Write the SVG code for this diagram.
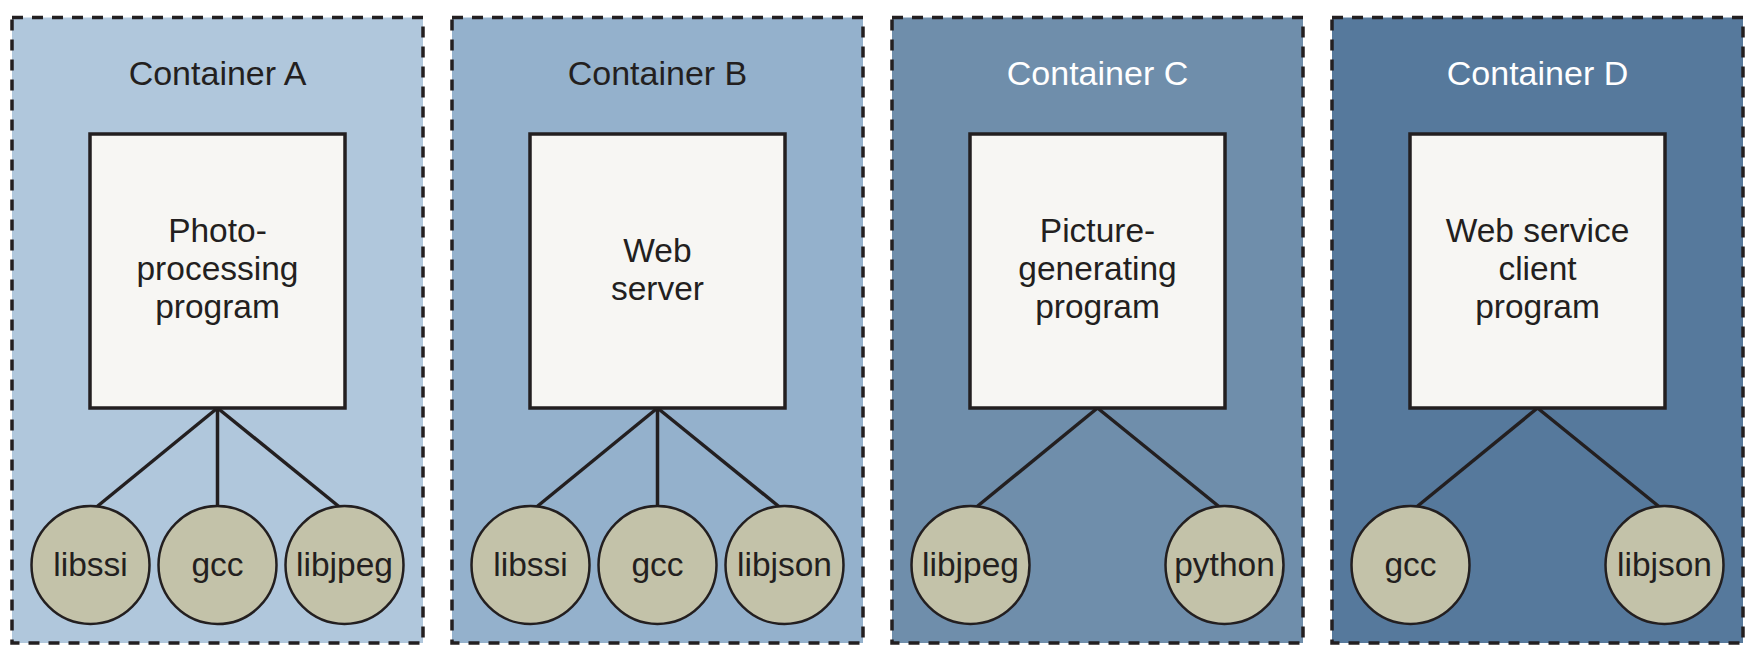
<svg xmlns="http://www.w3.org/2000/svg" width="1759" height="658" viewBox="0 0 1759 658">
  <style>
    .container { stroke: #231f20; stroke-width: 3.5; stroke-dasharray: 11 9; }
    .title { font-family: "Liberation Sans", Arial, sans-serif; font-size: 34px; text-anchor: middle; }
    .dark { fill: #231f20; }
    .light { fill: #ffffff; }
    .prog { fill: #f7f6f3; stroke: #231f20; stroke-width: 3.5; }
    .label { font-family: "Liberation Sans", Arial, sans-serif; font-size: 33.5px; text-anchor: middle; fill: #231f20; }
    .lib { fill: #c3c2a9; stroke: #231f20; stroke-width: 2.5; }
    .link { stroke: #231f20; stroke-width: 3.5; fill: none; }
  </style>

  <rect width="1759" height="658" fill="#ffffff"/>

  <!-- container backgrounds -->
  <g id="containerA">
    <rect class="container" x="12" y="17.5" width="411" height="625.5" fill="#b0c7dc"/>
    <text class="title dark" x="217.5" y="85">Container A</text>
  </g>
  <g id="containerB">
    <rect class="container" x="452" y="17.5" width="411" height="625.5" fill="#94b1cc"/>
    <text class="title dark" x="657.5" y="85">Container B</text>
  </g>
  <g id="containerC">
    <rect class="container" x="892" y="17.5" width="411" height="625.5" fill="#6f8eab"/>
    <text class="title light" x="1097.5" y="85">Container C</text>
  </g>
  <g id="containerD">
    <rect class="container" x="1332" y="17.5" width="411" height="625.5" fill="#56799c"/>
    <text class="title light" x="1537.5" y="85">Container D</text>
  </g>

  <!-- dependency links -->
  <g id="connectors">
    <line class="link" x1="217.5" y1="408" x2="96.5" y2="507"/>
    <line class="link" x1="217.5" y1="408" x2="217.5" y2="507"/>
    <line class="link" x1="217.5" y1="408" x2="339.5" y2="507"/>

    <line class="link" x1="657.5" y1="408" x2="536.5" y2="507"/>
    <line class="link" x1="657.5" y1="408" x2="657.5" y2="507"/>
    <line class="link" x1="657.5" y1="408" x2="779.5" y2="507"/>

    <line class="link" x1="1097.5" y1="408" x2="976.5" y2="507"/>
    <line class="link" x1="1097.5" y1="408" x2="1219.5" y2="507"/>

    <line class="link" x1="1537.5" y1="408" x2="1416.5" y2="507"/>
    <line class="link" x1="1537.5" y1="408" x2="1659.5" y2="507"/>
  </g>

  <!-- programs -->
  <g id="progA">
    <rect class="prog" x="90" y="134" width="255" height="274"/>
    <text class="label" x="217.5" y="242">Photo-</text>
    <text class="label" x="217.5" y="280">processing</text>
    <text class="label" x="217.5" y="318">program</text>
  </g>
  <g id="progB">
    <rect class="prog" x="530" y="134" width="255" height="274"/>
    <text class="label" x="657.5" y="262">Web</text>
    <text class="label" x="657.5" y="300">server</text>
  </g>
  <g id="progC">
    <rect class="prog" x="970" y="134" width="255" height="274"/>
    <text class="label" x="1097.5" y="242">Picture-</text>
    <text class="label" x="1097.5" y="280">generating</text>
    <text class="label" x="1097.5" y="318">program</text>
  </g>
  <g id="progD">
    <rect class="prog" x="1410" y="134" width="255" height="274"/>
    <text class="label" x="1537.5" y="242">Web service</text>
    <text class="label" x="1537.5" y="280">client</text>
    <text class="label" x="1537.5" y="318">program</text>
  </g>

  <!-- libraries -->
  <g id="libA1"><circle class="lib" cx="90.5" cy="565" r="59"/><text class="label" x="90.5" y="576">libssi</text></g>
  <g id="libA2"><circle class="lib" cx="217.5" cy="565" r="59"/><text class="label" x="217.5" y="576">gcc</text></g>
  <g id="libA3"><circle class="lib" cx="344.5" cy="565" r="59"/><text class="label" x="344.5" y="576">libjpeg</text></g>

  <g id="libB1"><circle class="lib" cx="530.5" cy="565" r="59"/><text class="label" x="530.5" y="576">libssi</text></g>
  <g id="libB2"><circle class="lib" cx="657.5" cy="565" r="59"/><text class="label" x="657.5" y="576">gcc</text></g>
  <g id="libB3"><circle class="lib" cx="784.5" cy="565" r="59"/><text class="label" x="784.5" y="576">libjson</text></g>

  <g id="libC1"><circle class="lib" cx="970.5" cy="565" r="59"/><text class="label" x="970.5" y="576">libjpeg</text></g>
  <g id="libC2"><circle class="lib" cx="1224.5" cy="565" r="59"/><text class="label" x="1224.5" y="576">python</text></g>

  <g id="libD1"><circle class="lib" cx="1410.5" cy="565" r="59"/><text class="label" x="1410.5" y="576">gcc</text></g>
  <g id="libD2"><circle class="lib" cx="1664.5" cy="565" r="59"/><text class="label" x="1664.5" y="576">libjson</text></g>
</svg>
